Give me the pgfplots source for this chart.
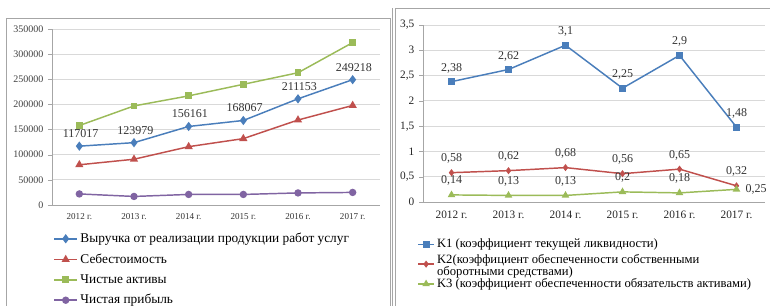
\documentclass[border=0pt]{standalone}
\usepackage{fontspec}
\setmainfont{Liberation Serif}
\usepackage{pgfplots}
\usepackage{pgfplotstable}
\pgfplotsset{compat=1.18}
\definecolor{cblue}{HTML}{4A7EBB}
\definecolor{cred}{HTML}{C0504D}
\definecolor{cgreen}{HTML}{9BBB59}
\definecolor{cpurple}{HTML}{8064A2}
\definecolor{cgrid}{HTML}{D9D9D9}
\definecolor{caxis}{HTML}{A6A6A6}

\pgfplotstableread{
x rev cost assets profit
0 117017 80000 158000 22000
1 123979 91000 197000 17000
2 156161 116000 217000 21000
3 168067 132000 240000 21000
4 211153 169000 263000 24000
5 249218 198000 323000 25000
}\lefttab

\pgfplotstableread{
x k1 k1l k2 k2l k3 k3l
0 2.38 2,38 0.58 0,58 0.14 0,14
1 2.62 2,62 0.62 0,62 0.13 0,13
2 3.10 3,1 0.68 0,68 0.13 0,13
3 2.25 2,25 0.56 0,56 0.20 0,2
4 2.90 2,9 0.65 0,65 0.18 0,18
5 1.48 1,48 0.32 0,32 0.25 0,25
}\righttab

\pgfplotsset{
  mybase/.style={
    scale only axis,
    axis x line*=bottom, axis y line*=left,
    axis line style={draw=caxis,-},
    xmin=-0.5, xmax=5.5,
    xtick={0,...,5},
    xticklabels={2012 г.,2013 г.,2014 г.,2015 г.,2016 г.,2017 г.},
    major x tick style={draw=none},
    extra x ticks={-0.5,0.5,...,5.5},
    extra x tick labels={},
    extra x tick style={tick style={draw=caxis}, major tick length=3pt},
    tick align=outside,
    ytick style={draw=caxis},
    major tick length=3pt,
    ymajorgrids, grid style={cgrid, line width=0.6pt},
    /pgf/number format/assume math mode=true,
    clip=false,
    every axis plot/.append style={line width=1.1pt},
  }
}

\begin{document}
\begin{tikzpicture}
\useasboundingbox (0,0) rectangle (577.5pt,229.5pt);
% frames
\draw[caxis, line width=0.6pt] (4.5pt,-2pt) -- (4.5pt,216pt) -- (292.5pt,216pt) -- (292.5pt,-2pt);
\draw[caxis, line width=0.6pt] (296.5pt,-2pt) -- (296.5pt,223.5pt) -- (580pt,223.5pt);
\draw[caxis, line width=0.6pt] (294.5pt,-2pt) -- (294.5pt,223.5pt);

\begin{axis}[mybase,
  at={(39pt,75.75pt)}, anchor=south west,
  width=246pt, height=132pt,
  ymin=0, ymax=350000, ytick={0,50000,...,350000},
  scaled y ticks=false,
  yticklabel style={font=\fontsize{7.5}{8}\selectfont, text=black!75},
  xticklabel style={font=\fontsize{6.8}{8}\selectfont, text=black!80},
  y tick label style={/pgf/number format/.cd, fixed, 1000 sep={}},
  legend style={at={(axis description cs:0.0,-0.135)}, anchor=north west,
    draw=none, fill=none, font=\fontsize{10}{11}\selectfont,
    row sep=2.9pt, inner sep=1pt},
  legend cell align=left,
]
\addplot[cblue, mark=diamond*, mark size=2.6pt,
  nodes near coords, point meta=explicit symbolic,
  every node near coord/.append style={font=\fontsize{9}{10}\selectfont, text=black!80, yshift=2.5pt, xshift=1pt}]
  table[x=x, y=rev, meta=rev] {\lefttab};
\addlegendentry{Выручка от реализации продукции работ услуг}
\addplot[cred, mark=triangle*, mark size=2.5pt] table[x=x, y=cost] {\lefttab};
\addlegendentry{Себестоимость}
\addplot[cgreen, mark=square*, mark size=2pt] table[x=x, y=assets] {\lefttab};
\addlegendentry{Чистые активы}
\addplot[cpurple, mark=*, mark size=2.2pt] table[x=x, y=profit] {\lefttab};
\addlegendentry{Чистая прибыль}
\end{axis}

\begin{axis}[mybase,
  at={(317.25pt,78pt)}, anchor=south west,
  width=256.5pt, height=132.75pt,
  ymin=0, ymax=3.5, ytick={0,0.5,...,3.5},
  yticklabel style={font=\fontsize{8.5}{9}\selectfont, text=black!85,
    /pgf/number format/.cd, fixed, use comma},
  xticklabel style={font=\fontsize{8.5}{9}\selectfont, text=black!85},
  legend style={at={(axis description cs:-0.02,-0.185)}, anchor=north west,
    draw=none, fill=none, font=\fontsize{9.5}{10}\selectfont,
    row sep=6pt, inner sep=1pt},
  legend cell align=left,
  legend image code/.code={\draw[mark repeat=2,mark phase=2,#1] plot coordinates {(0cm,0cm) (0.2cm,0cm) (0.4cm,0cm)};},
  every node near coord/.append style={font=\fontsize{9}{10}\selectfont, text=black!80},
]
\addplot[cblue, mark=square*, mark size=2.1pt,
  nodes near coords, point meta=explicit symbolic,
  every node near coord/.append style={yshift=2.5pt}]
  table[x=x, y=k1, meta=k1l] {\righttab};
\addlegendentry{K1 (коэффициент текущей ликвидности)}
\addplot[cred, mark=diamond*, mark size=1.8pt,
  nodes near coords, point meta=explicit symbolic,
  every node near coord/.append style={yshift=3pt}]
  table[x=x, y=k2, meta=k2l] {\righttab};
\addlegendentry{\smash{\begin{tabular}[t]{@{}l@{}}K2(коэффициент обеспеченности собственными\\[-1pt] оборотными средствами)\end{tabular}}\rule[-4pt]{0pt}{4pt}}
\addplot[cgreen, mark=triangle*, mark size=2.2pt,
  nodes near coords, point meta=explicit symbolic,
  coordinate style/.condition={x<4.5}{anchor=south, yshift=3pt},
  coordinate style/.condition={x>4.5}{anchor=west, xshift=3pt}]
  table[x=x, y=k3, meta=k3l] {\righttab};
\addlegendentry{K3 (коэффициент обеспеченности обязательств активами)}
\end{axis}
\end{tikzpicture}
\end{document}
